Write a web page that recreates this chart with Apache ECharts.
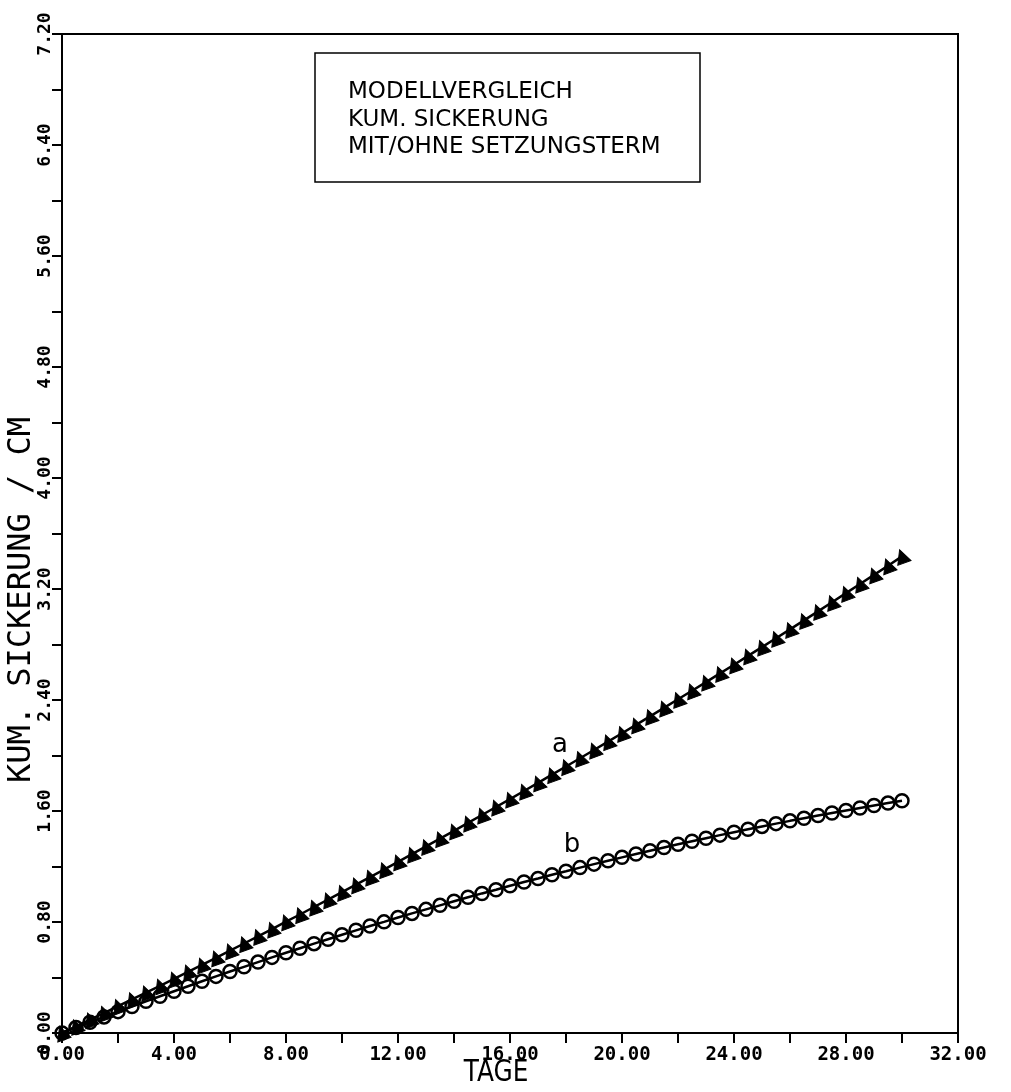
<!DOCTYPE html>
<html>
<head>
<meta charset="utf-8">
<script src="https://cdn.jsdelivr.net/npm/echarts@6/dist/echarts.min.js"></script>
<style>
html,body{margin:0;padding:0;background:#fff;}
#chart{width:1011px;height:1092px;}
</style>
</head>
<body>
<div id="chart"></div>
<script>
// Days (x values)
const days = [0,0.5,1,1.5,2,2.5,3,3.5,4,4.5,5,5.5,6,6.5,7,7.5,8,8.5,9,9.5,10,10.5,11,11.5,12,12.5,13,13.5,14,14.5,15,15.5,16,16.5,17,17.5,18,18.5,19,19.5,20,20.5,21,21.5,22,22.5,23,23.5,24,24.5,25,25.5,26,26.5,27,27.5,28,28.5,29,29.5,30];
// Series a: with settlement term (triangles)
const seriesA = [0,0.048,0.096,0.144,0.193,0.242,0.291,0.340,0.390,0.441,0.491,0.542,0.593,0.645,0.697,0.749,0.802,0.854,0.908,0.961,1.015,1.069,1.124,1.178,1.234,1.289,1.345,1.401,1.457,1.514,1.571,1.629,1.686,1.744,1.803,1.862,1.921,1.980,2.040,2.100,2.160,2.221,2.282,2.343,2.405,2.467,2.529,2.592,2.654,2.718,2.781,2.845,2.909,2.974,3.039,3.104,3.170,3.236,3.302,3.368,3.435];
// Series b: without settlement term (circles)
const seriesB = [0,0.039,0.078,0.116,0.154,0.191,0.228,0.265,0.301,0.337,0.373,0.408,0.443,0.477,0.511,0.545,0.578,0.611,0.644,0.676,0.708,0.740,0.771,0.801,0.832,0.862,0.891,0.920,0.949,0.978,1.006,1.033,1.061,1.088,1.114,1.141,1.166,1.192,1.217,1.242,1.266,1.290,1.314,1.337,1.360,1.382,1.404,1.426,1.447,1.468,1.489,1.509,1.529,1.548,1.567,1.586,1.604,1.622,1.640,1.657,1.674];
const titleLines = ['MODELLVERGLEICH','KUM. SICKERUNG','MIT/OHNE SETZUNGSTERM'];
const xName = 'TAGE';
const yName = 'KUM. SICKERUNG / CM';
const seriesNames = ['a','b'];

const chart = echarts.init(document.getElementById('chart'));
const lblFont = 'DejaVu Sans Mono';
function pairs(ys){ return days.map((d,i)=>[d, ys[i]]); }

const option = {
  backgroundColor:'#fff',
  animation:false,
  grid:{left:62,right:53,top:34,bottom:59,show:true,borderColor:'#000',borderWidth:2,backgroundColor:'transparent'},
  xAxis:{
    type:'value',min:0,max:32,interval:4,
    axisLine:{show:true,lineStyle:{color:'#000',width:2}},
    axisTick:{show:true,length:10,lineStyle:{color:'#000',width:2}},
    minorTick:{show:true,splitNumber:2,length:10,lineStyle:{color:'#000',width:2}},
    splitLine:{show:false},
    axisLabel:{color:'#000',fontFamily:lblFont,fontWeight:'bold',fontSize:19,margin:13,
      formatter:v=>v.toFixed(2)}
  },
  yAxis:{
    type:'value',min:0,max:7.2,interval:0.8,
    axisLine:{show:true,lineStyle:{color:'#000',width:2}},
    axisTick:{show:true,length:10,lineStyle:{color:'#000',width:2}},
    minorTick:{show:true,splitNumber:2,length:10,lineStyle:{color:'#000',width:2}},
    splitLine:{show:false},
    axisLabel:{color:'#000',fontFamily:lblFont,fontWeight:'bold',fontSize:18,margin:8,rotate:90,
      formatter:v=>v.toFixed(2)}
  },
  series:[
    {name:seriesNames[0],type:'line',data:pairs(seriesA),symbol:'triangle',symbolSize:14,symbolRotate:20,
     lineStyle:{color:'#000',width:2.5},itemStyle:{color:'#000',borderColor:'#000'},z:3},
    {name:seriesNames[1],type:'line',data:pairs(seriesB),symbol:'circle',symbolSize:13,
     lineStyle:{color:'#000',width:2.5},itemStyle:{color:'transparent',borderColor:'#000',borderWidth:2.5},z:2}
  ],
  graphic:[
    {type:'rect',shape:{x:315,y:53,width:385,height:129},style:{fill:'#fff',stroke:'#000',lineWidth:1.5},z:10},
    {type:'text',x:348,y:92,style:{text:titleLines[0],font:'23px "DejaVu Sans"',fill:'#000',verticalAlign:'middle'},z:11},
    {type:'text',x:348,y:120,style:{text:titleLines[1],font:'23px "DejaVu Sans"',fill:'#000',verticalAlign:'middle'},z:11},
    {type:'text',x:348,y:147,style:{text:titleLines[2],font:'23px "DejaVu Sans"',fill:'#000',verticalAlign:'middle'},z:11},
    {type:'text',x:496,y:1073,scaleX:0.8,style:{text:xName,font:'31px "DejaVu Sans"',fill:'#000',align:'center',verticalAlign:'middle'},z:11},
    {type:'text',x:22,y:600,rotation:Math.PI/2,style:{text:yName,font:'32px "DejaVu Sans Mono"',fill:'#000',align:'center',verticalAlign:'middle'},z:11},
    {type:'text',x:560,y:745,style:{text:seriesNames[0],font:'26px "DejaVu Sans"',fill:'#000',align:'center',verticalAlign:'middle'},z:11},
    {type:'text',x:572,y:845,style:{text:seriesNames[1],font:'26px "DejaVu Sans"',fill:'#000',align:'center',verticalAlign:'middle'},z:11}
  ]
};
chart.setOption(option);
</script>
</body>
</html>
